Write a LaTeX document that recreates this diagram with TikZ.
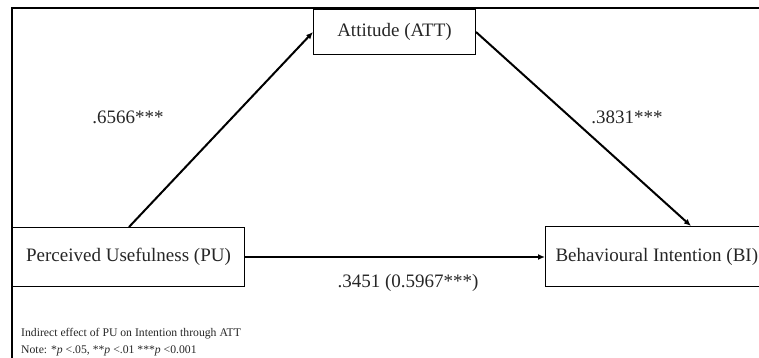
\documentclass[tikz,border=0pt]{standalone}
\usepackage{fontspec}
\setmainfont{Liberation Serif}
\usetikzlibrary{arrows.meta,calc}

\tikzset{
  varbox/.style={draw=black, line width=1pt, inner sep=0pt, anchor=north west,
    font=\fontsize{19}{22}\selectfont, text=black!85},
  coef/.style={font=\fontsize{19}{22}\selectfont, text=black!85, inner sep=0pt},
  path/.style={line width=2pt, -{Latex[length=7pt,width=6pt]}},
  note/.style={font=\fontsize{11.7}{14}\selectfont, text=black!85, inner sep=0pt, anchor=west},
}

\begin{document}
\begin{tikzpicture}[x=1pt, y=-1pt]
  \useasboundingbox (0,0) rectangle (759,358);
  \clip (0,0) rectangle (759,358);

  % outer frame: top and left rules
  \draw[line width=2pt] (12,358) -- (12,8) -- (765,8);

  % variables
  \node[varbox, minimum width=162pt, minimum height=45pt] (ATT) at (313,9) {Attitude (ATT)};
  \node[varbox, minimum width=232pt, minimum height=59pt] (PU) at (12,227) {Perceived Usefulness (PU)};
  \node[varbox, minimum width=230pt, minimum height=60pt] (BI) at (545,226)
    {\makebox[228pt][l]{\hspace*{9pt}Behavioural Intention (BI)}};

  % paths
  \draw[path] ([xshift=117pt]PU.north west) -- (ATT.west);
  \draw[path] (ATT.east) -- ([xshift=146pt]BI.north west);
  \draw[path] (PU.east) -- (BI.west |- PU.east);

  % coefficients
  \node[coef] (a) at (128,117) {.6566***};
  \node[coef] (b) at (627,117) {.3831***};
  \node[coef] (c) at (408,283) {.3451 (0.5967***)};

  % notes
  \node[note] (n1) at (21,334) {Indirect effect of PU on Intention through ATT};
  \node[note] (n2) at (21,351) {Note: *\textit{p} <.05, **\textit{p} <.01 ***\textit{p} <0.001};
\end{tikzpicture}
\end{document}
